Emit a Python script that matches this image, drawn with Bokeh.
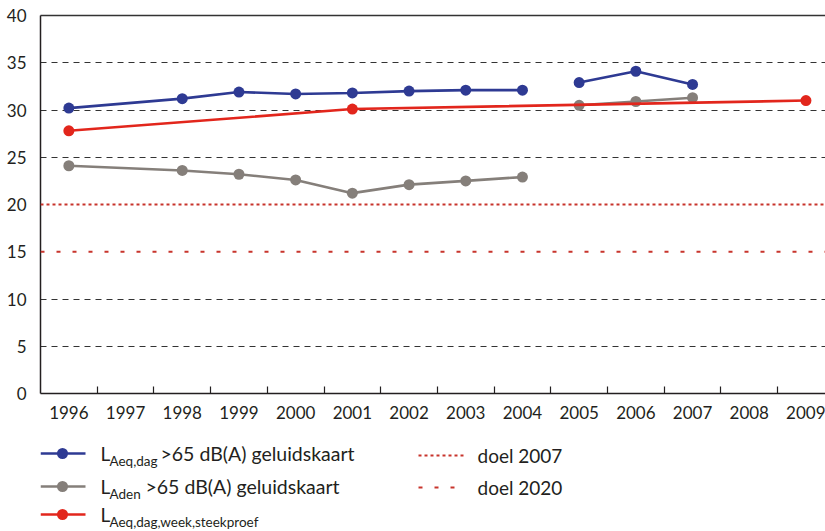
from bokeh.plotting import figure
from bokeh.models import Range1d, FixedTicker, Span, LinearAxis
from bokeh.layouts import column
from bokeh.embed import file_html
from bokeh.resources import INLINE
from bokeh.core.properties import value

# ---------------- data ----------------
years = list(range(1996, 2010))
year_labels = {y: str(y) for y in years}

blue_years_a = [1996, 1998, 1999, 2000, 2001, 2002, 2003, 2004]
blue_vals_a = [30.2, 31.2, 31.9, 31.7, 31.8, 32.0, 32.1, 32.1]
blue_years_b = [2005, 2006, 2007]
blue_vals_b = [32.9, 34.1, 32.7]

gray_years_a = [1996, 1998, 1999, 2000, 2001, 2002, 2003, 2004]
gray_vals_a = [24.1, 23.6, 23.2, 22.6, 21.2, 22.1, 22.5, 22.9]
gray_years_b = [2005, 2006, 2007]
gray_vals_b = [30.5, 30.9, 31.3]

red_years = [1996, 2001, 2009]
red_vals = [27.8, 30.1, 31.0]

doel_vals = [20, 15]            # doel 2007, doel 2020
doel_labels = ["doel 2007", "doel 2020"]
y_ticks = [0, 5, 10, 15, 20, 25, 30, 35, 40]
grid_ticks = [5, 10, 25, 30, 35]

series_main = [">65 dB(A) geluidskaart", ">65 dB(A) geluidskaart", ""]
series_sub = ["Aeq,dag", "Aden", "Aeq,dag,week,steekproef"]

# ---------------- styles ----------------
BLUE = "#2e3a93"
GRAY = "#857f7a"
RED = "#e2261c"
DOEL = "#c8342c"
TXT = "#231f20"
FONT = "Lato"
BAND = 56.7
LEFT = 40
TOP = 15
BOTTOM = 35
FRAME_H = 378
W = 825
FRAME_W = W - LEFT
H1 = TOP + FRAME_H + BOTTOM
H2 = 531 - H1

p = figure(width=W, height=H1,
           x_range=Range1d(years[0] - 0.5, years[0] - 0.5 + FRAME_W / BAND),
           y_range=Range1d(0, 40),
           output_backend="svg", toolbar_location=None,
           min_border_left=LEFT, min_border_right=0, min_border_top=TOP,
           min_border_bottom=BOTTOM)
p.outline_line_color = None

# x axis
p.xaxis.ticker = FixedTicker(ticks=years, minor_ticks=[y + 0.5 for y in years[:-1]])
p.xaxis.major_label_overrides = year_labels
p.xaxis.major_tick_in = 0
p.xaxis.major_tick_out = 0
p.xaxis.minor_tick_in = 7
p.xaxis.minor_tick_out = 0
p.xaxis.minor_tick_line_color = TXT
p.xaxis.minor_tick_line_width = 1.2
p.xaxis.axis_line_color = TXT
p.xaxis.axis_line_width = 1.5
p.xaxis.major_label_standoff = 12
p.xaxis.major_label_text_font = FONT
p.xaxis.major_label_text_font_size = "17px"
p.xaxis.major_label_text_color = TXT

# y axis
p.yaxis.ticker = FixedTicker(ticks=y_ticks)
p.yaxis.major_tick_in = 0
p.yaxis.major_tick_out = 0
p.yaxis.minor_tick_in = 0
p.yaxis.minor_tick_out = 0
p.yaxis.axis_line_color = TXT
p.yaxis.axis_line_width = 1.5
p.yaxis.major_label_standoff = 14
p.yaxis.major_label_text_font = FONT
p.yaxis.major_label_text_font_size = "17px"
p.yaxis.major_label_text_color = TXT

# top line
top = LinearAxis(ticker=FixedTicker(ticks=[]), major_tick_in=0, major_tick_out=0,
                 minor_tick_in=0, minor_tick_out=0, major_label_text_font_size="0px",
                 major_label_standoff=0, axis_line_color="#333333", axis_line_width=1.5)
p.add_layout(top, "above")

# grid
p.xgrid.visible = False
p.ygrid.ticker = FixedTicker(ticks=grid_ticks)
p.ygrid.grid_line_color = "#333333"
p.ygrid.grid_line_dash = "6 5"
p.ygrid.grid_line_width = 1.2

# doel lines
p.add_layout(Span(location=doel_vals[0], dimension="width", line_color=DOEL,
                  line_dash="3 3", line_width=2.2))
p.add_layout(Span(location=doel_vals[1], dimension="width", line_color=DOEL,
                  line_dash="4 12", line_width=2.2))

# series
for xs, ys in [(gray_years_a, gray_vals_a), (gray_years_b, gray_vals_b)]:
    p.line(xs, ys, line_color=GRAY, line_width=2.6)
    p.scatter(xs, ys, size=11, fill_color=GRAY, line_color=None)
for xs, ys in [(blue_years_a, blue_vals_a), (blue_years_b, blue_vals_b)]:
    p.line(xs, ys, line_color=BLUE, line_width=2.6)
    p.scatter(xs, ys, size=11, fill_color=BLUE, line_color=None)
p.line(red_years, red_vals, line_color=RED, line_width=2.6)
p.scatter(red_years, red_vals, size=11, fill_color=RED, line_color=None)

# ---------------- legend figure (coordinates = page pixels) ----------------
q = figure(width=W, height=H2, x_range=Range1d(LEFT, W), y_range=Range1d(H1 + H2, H1),
           output_backend="svg", toolbar_location=None,
           min_border_left=LEFT, min_border_right=0, min_border_top=0, min_border_bottom=0)
q.axis.visible = False
q.grid.visible = False
q.outline_line_color = None

row_y = [453, 486, 514]
colors = [BLUE, GRAY, RED]
main_x = [160, 145, 0]
for i in range(3):
    yy = row_y[i]
    q.line([40, 85], [yy, yy], line_color=colors[i], line_width=2.6)
    q.scatter([62], [yy], size=11, fill_color=colors[i], line_color=None)
    q.text([100], [yy], text=["L"], text_font=value(FONT), text_font_size="19px",
           text_baseline="middle", text_color=TXT)
    q.text([109], [yy + 7], text=[series_sub[i]], text_font=value(FONT),
           text_font_size="13.5px", text_baseline="middle", text_color=TXT)
    if series_main[i]:
        q.text([main_x[i]], [yy], text=[series_main[i]], text_font=value(FONT),
               text_font_size="19.5px", text_baseline="middle", text_color=TXT)

doel_dash = ["3 3", "4 12"]
doel_y = [455, 487]
for i in range(2):
    yy = doel_y[i]
    q.line([418, 463], [yy, yy], line_color=DOEL, line_dash=doel_dash[i], line_width=2.2)
    q.text([477], [yy], text=[doel_labels[i]], text_font=value(FONT),
           text_font_size="19px", text_baseline="middle", text_color=TXT)

layout = column(p, q, spacing=0)
open("out.html", "w").write(file_html(layout, INLINE))
